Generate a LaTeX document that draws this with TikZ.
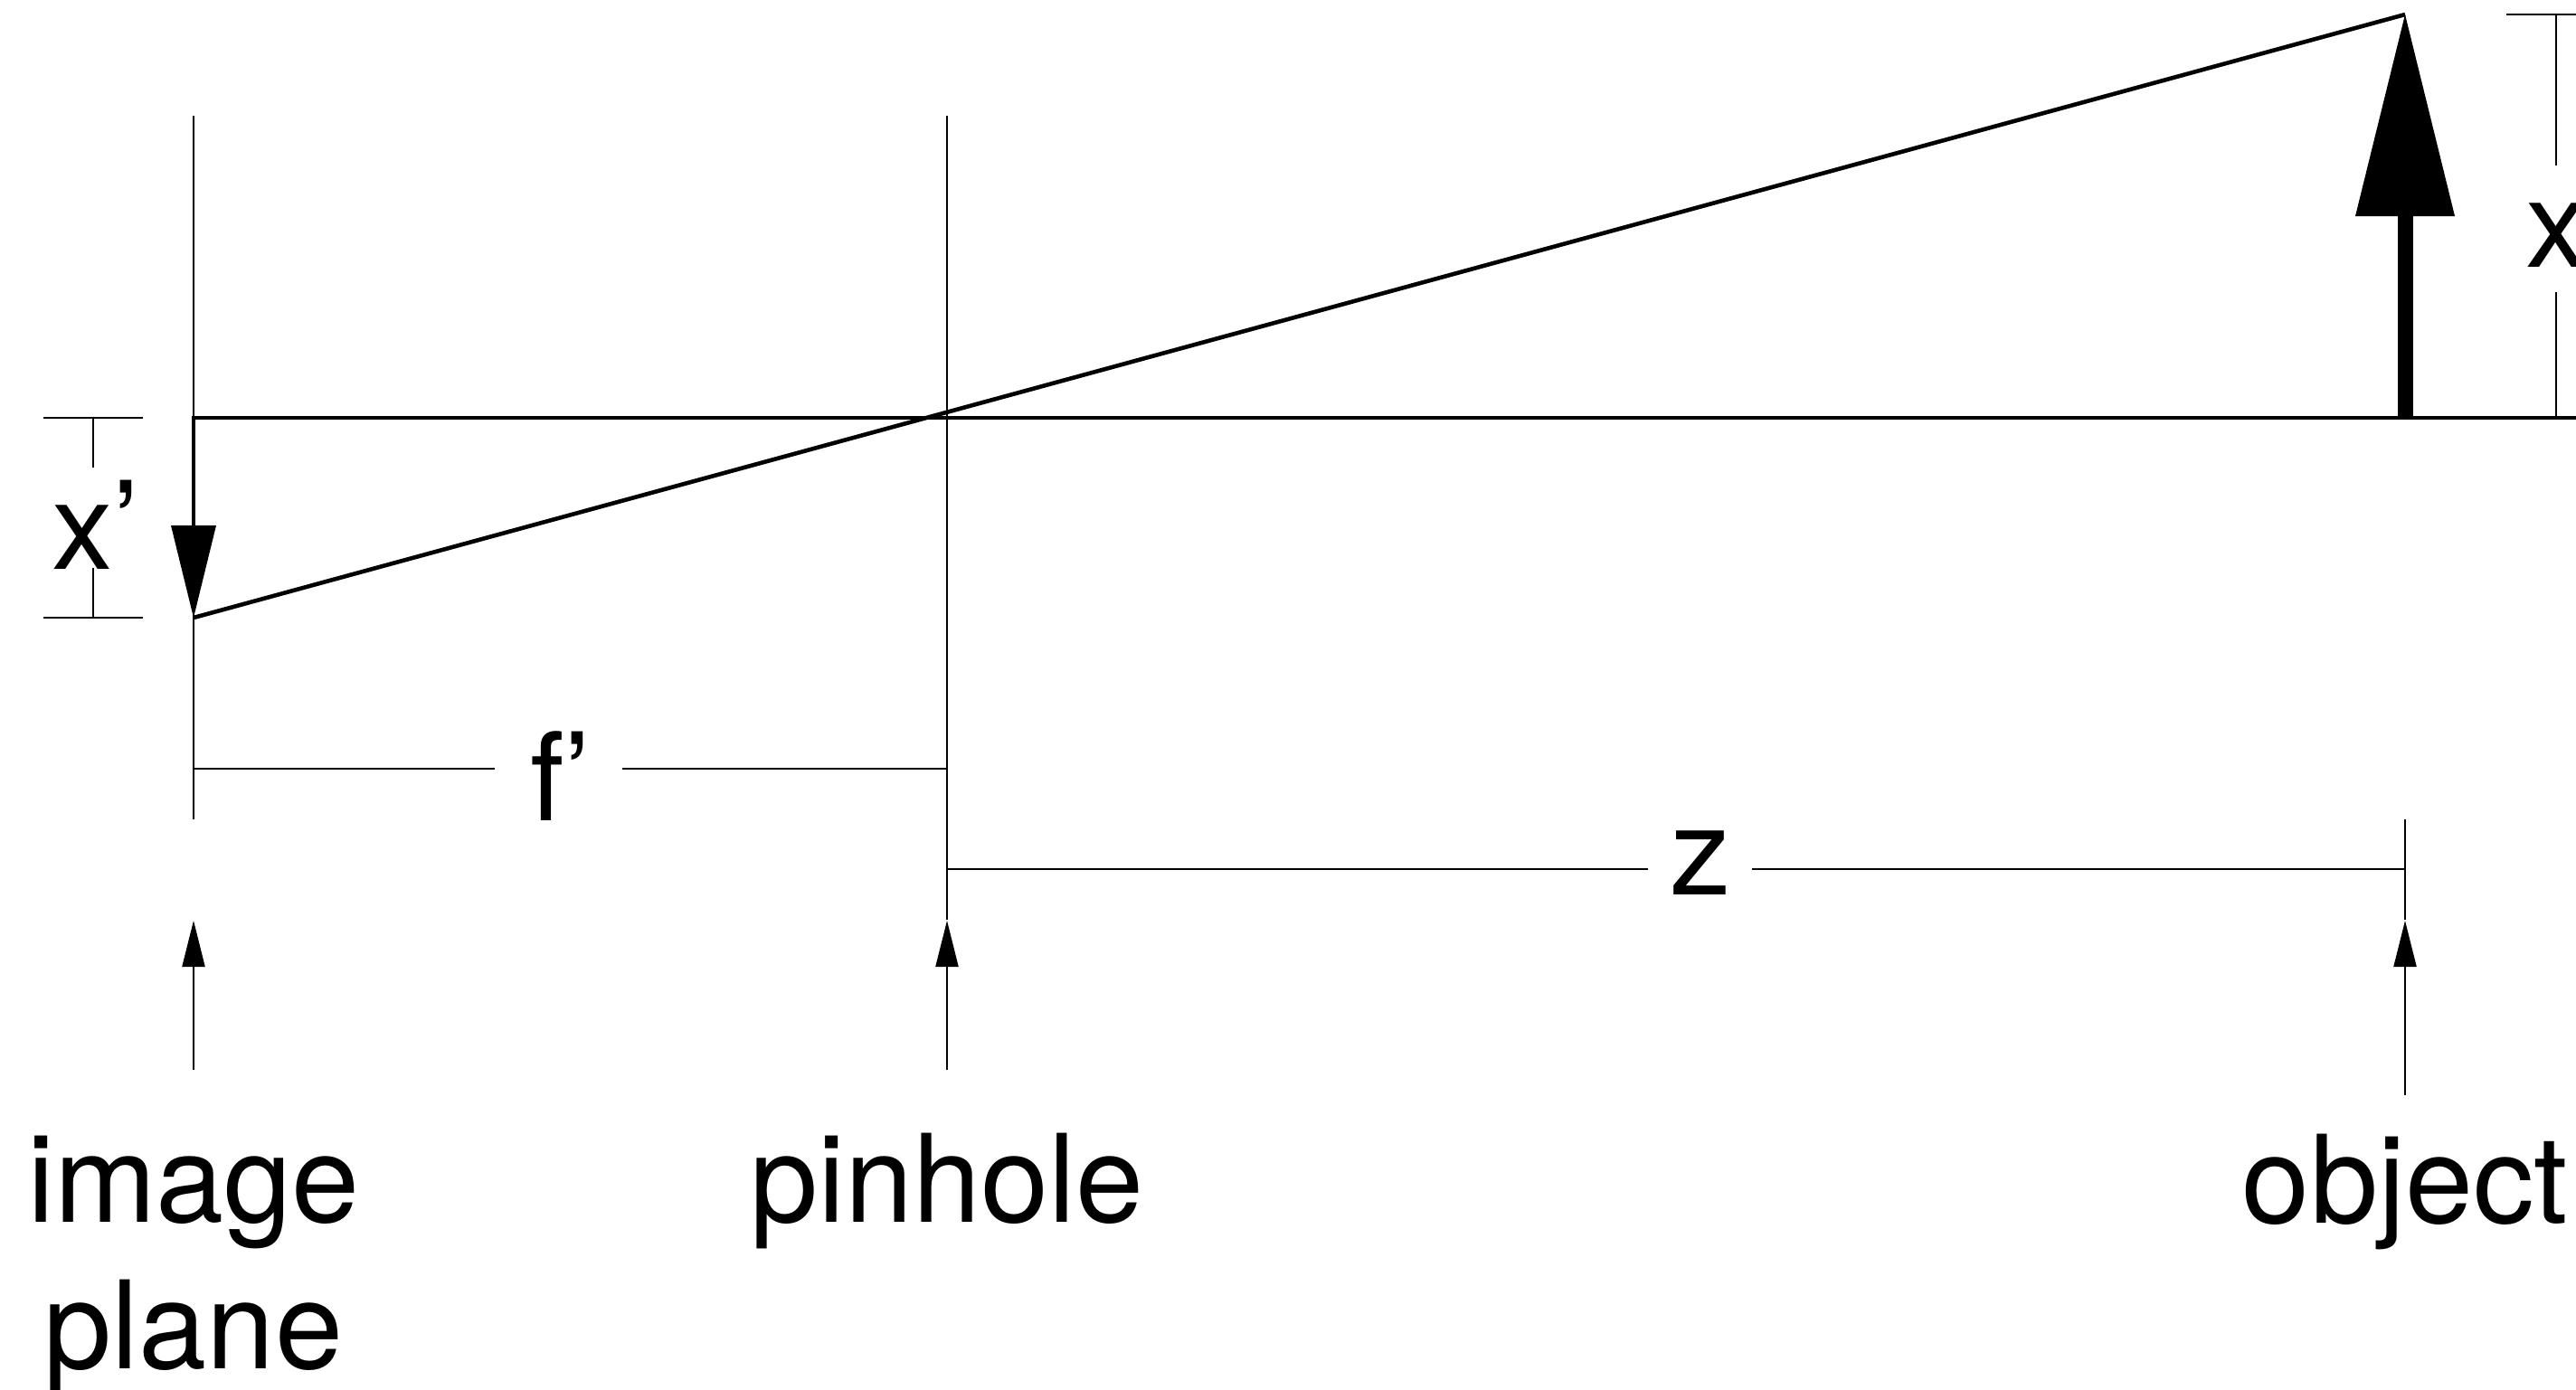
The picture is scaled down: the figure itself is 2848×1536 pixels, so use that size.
\documentclass[tikz,border=0pt]{standalone}
\usepackage{fontspec}
\setmainfont{TeX Gyre Heros}
\usetikzlibrary{arrows.meta}
\begin{document}
\begin{tikzpicture}[x=0.25pt,y=-0.25pt,
  thinln/.style={line width=0.7pt},
  medln/.style={line width=1.15pt, line join=miter},
  lbl/.style={inner sep=0pt, anchor=base, font=\fontsize{33.75}{40.5}\selectfont},
  bigtip/.style={line width=4.25pt, -{Triangle[length=55.75pt,width=27.5pt,line width=0pt]}},
  imgtip/.style={medln, -{Triangle[length=25.5pt,width=12.5pt,line width=0pt]}},
  smalltip/.style={thinln, -{Triangle[length=12.75pt,width=6.4pt,line width=0pt]}}]
\useasboundingbox (0,0) rectangle (2848,1536);
\clip (0,0) rectangle (2848,1536);

% key coordinates
\coordinate (ipTop) at (214,128);
\coordinate (ipBot) at (214,906);
\coordinate (phTop) at (1047,128);
\coordinate (phBot) at (1047,1017);
\coordinate (axR) at (2848,462);
\coordinate (axL) at (214,462);
\coordinate (imgTip) at (214,683);
\coordinate (objBase) at (2659,462);
\coordinate (objTip) at (2659,16);

% image plane and pinhole lines
\draw[thinln] (ipTop) -- (ipBot);
\draw[thinln] (phTop) -- (phBot);

% optical axis with inverted image arrow
\draw[imgtip] (axR) -- (axL) -- (imgTip);

% ray
\draw[medln] (objTip) -- (imgTip);

% object arrow
\draw[bigtip] (objBase) -- (objTip);

% x' dimension
\coordinate (xpT1) at (48,462);  \coordinate (xpT2) at (158,462);
\coordinate (xpB1) at (48,683);  \coordinate (xpB2) at (158,683);
\coordinate (xpV1) at (103,462); \coordinate (xpV2) at (103,517);
\coordinate (xpV3) at (103,628); \coordinate (xpV4) at (103,683);
\draw[thinln] (xpT1) -- (xpT2);
\draw[thinln] (xpB1) -- (xpB2);
\draw[thinln] (xpV1) -- (xpV2);
\draw[thinln] (xpV3) -- (xpV4);
\node[lbl] (xplbl) at (106,629) {x’};

% x dimension
\coordinate (xT1) at (2771,16); \coordinate (xT2) at (2848,16);
\coordinate (xV1) at (2826,16); \coordinate (xV2) at (2826,183);
\coordinate (xV3) at (2826,323); \coordinate (xV4) at (2826,462);
\draw[thinln] (xT1) -- (xT2);
\draw[thinln] (xV1) -- (xV2);
\draw[thinln] (xV3) -- (xV4);
\node[lbl] (xlbl) at (2826,295) {x};

% f' dimension
\coordinate (fA) at (214,850); \coordinate (fB) at (547,850);
\coordinate (fC) at (688,850); \coordinate (fD) at (1047,850);
\draw[thinln] (fA) -- (fB);
\draw[thinln] (fC) -- (fD);
\node[lbl] (flbl) at (620,907) {f’};

% z dimension
\coordinate (zA) at (1047,961); \coordinate (zB) at (1822,961);
\coordinate (zC) at (1937,961); \coordinate (zD) at (2659,961);
\draw[thinln] (zA) -- (zB);
\draw[thinln] (zC) -- (zD);
\node[lbl] (zlbl) at (1880,989) {z};
\coordinate (otTop) at (2659,906); \coordinate (otBot) at (2659,1017);
\draw[thinln] (otTop) -- (otBot);

% pointer arrows
\coordinate (a1s) at (214,1183);  \coordinate (a1e) at (214,1018);
\coordinate (a2s) at (1047,1183); \coordinate (a2e) at (1047,1018);
\coordinate (a3s) at (2659,1211); \coordinate (a3e) at (2659,1018);
\draw[smalltip] (a1s) -- (a1e);
\draw[smalltip] (a2s) -- (a2e);
\draw[smalltip] (a3s) -- (a3e);

% labels
\node[lbl] (limage) at (214,1351) {image};
\node[lbl] (lplane) at (214,1513) {plane};
\node[lbl] (lpin) at (1047,1351) {pinhole};
\node[lbl] (lobj) at (2659,1352) {object};
\end{tikzpicture}
\end{document}
